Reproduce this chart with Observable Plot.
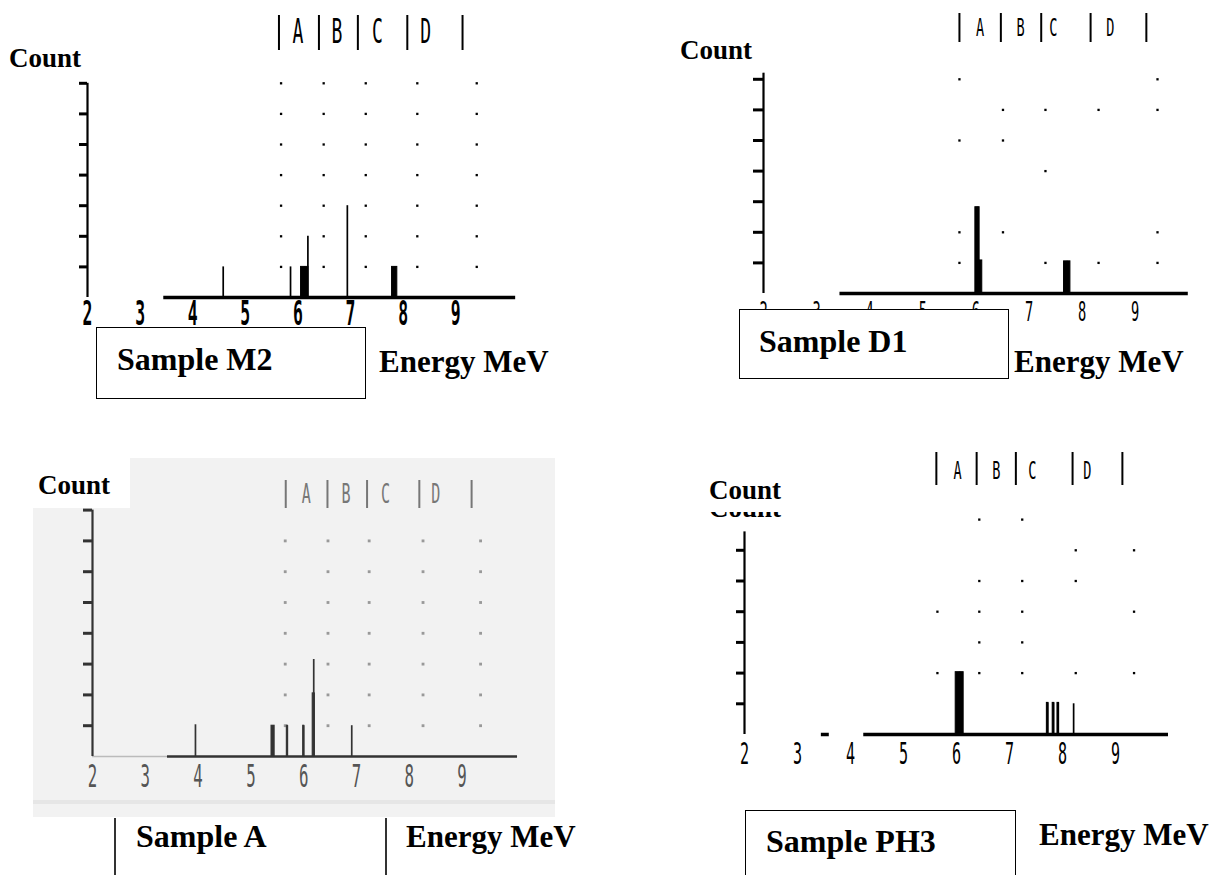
<!DOCTYPE html>
<html><head><meta charset="utf-8">
<script src="https://cdn.jsdelivr.net/npm/d3@7"></script>
<script src="https://cdn.jsdelivr.net/npm/@observablehq/plot@0.6"></script>
<style>
html,body{margin:0;padding:0;background:#fff;}
#page{position:relative;width:1211px;height:875px;overflow:hidden;background:#fff;}
#page svg{position:absolute;left:0;top:0;}
.lbl{position:absolute;font-family:"Liberation Serif","Times New Roman",serif;font-weight:bold;color:#000;white-space:nowrap;line-height:1;}
.box{position:absolute;border:1.5px solid #000;background:#fff;box-sizing:border-box;}
.vl{position:absolute;width:2px;background:#333;}
</style></head><body><div id="page"></div>
<script>
// ---------- data ----------
const energyTicks = [2, 3, 4, 5, 6, 7, 8, 9];          // MeV tick labels
const headerLetters = ["A", "B", "C", "D"];

// Sample M2
const m2PeakEnergy = [4.58, 5.86, 6.13, 6.19, 6.94, 7.84];
const m2PeakWidth  = [0.00, 0.00, 0.14, 0.00, 0.00, 0.10];
const m2PeakCount  = [1.00, 1.00, 1.00, 2.00, 3.00, 1.00];
const m2Baseline   = [[3.45, 10.14]];
const m2DotCols    = [5.68, 6.49, 7.29, 8.27, 9.40];
const m2Separators = [5.64, 6.40, 7.14, 8.08, 9.13];
const m2LetterPos  = [6.00, 6.74, 7.51, 8.43];
const m2CountTicks = [1, 2, 3, 4, 5, 6, 7];

// Sample D1
const d1PeakEnergy = [6.03, 6.08, 7.72];
const d1PeakWidth  = [0.08, 0.08, 0.12];
const d1PeakCount  = [2.82, 1.08, 1.05];
const d1Baseline   = [[3.44, 10.0]];
const d1DotCols    = [5.69, 6.51, 7.31, 8.31, 9.42];
const d1Dots       = [[0,7],[4,7],[1,6],[2,6],[3,6],[4,6],[0,5],[1,5],[2,4],[0,2],[1,2],[4,2],[0,1],[2,1],[3,1],[4,1]];
const d1Separators = [5.69, 6.47, 7.23, 8.16, 9.21];
const d1LetterPos  = [6.08, 6.84, 7.46, 8.53];
const d1CountTicks = [1, 2, 3, 4, 5, 6, 7];

// Sample A
const aPeakEnergy = [3.95, 5.42, 5.69, 6.00, 6.19, 6.19, 6.91];
const aPeakWidth  = [0.00, 0.06, 0.02, 0.02, 0.04, 0.00, 0.00];
const aPeakCount  = [1.03, 1.00, 1.00, 1.00, 2.05, 3.15, 1.00];
const aBaseline   = [[3.42, 10.05]];
const aFaintBase  = [[2.0, 3.42]];
const aDotCols    = [5.65, 6.46, 7.24, 8.26, 9.35];
const aSeparators = [5.66, 6.45, 7.20, 8.19, 9.18];
const aLetterPos  = [6.05, 6.80, 7.55, 8.50];
const aCountTicks = [1, 2, 3, 4, 5, 6, 7, 8];

// Sample PH3
const ph3PeakEnergy = [6.06, 7.72, 7.83, 7.92, 8.21];
const ph3PeakWidth  = [0.15, 0.03, 0.03, 0.03, 0.00];
const ph3PeakCount  = [2.03, 1.03, 1.03, 1.03, 1.00];
const ph3Baseline   = [[3.45, 3.60], [4.25, 10.0]];
const ph3DotCols    = [5.64, 6.43, 7.24, 8.25, 9.35];
const ph3Dots       = [[1,7],[2,7],[3,6],[4,6],[1,5],[2,5],[3,5],[0,4],[1,4],[2,4],[4,4],[1,3],[2,3],[0,2],[1,2],[2,2],[3,2],[4,2]];
const ph3Separators = [5.62, 6.38, 7.12, 8.19, 9.13];
const ph3LetterPos  = [6.02, 6.75, 7.43, 8.47];
const ph3CountTicks = [1, 2, 3, 4, 5, 6];

const gridRows = [1, 2, 3, 4, 5, 6, 7];
const fullGrid = d3.cross([0, 1, 2, 3, 4], gridRows);

// ---------- layout (page pixels) ----------
const W = 1211, H = 875;
const page = document.getElementById("page");

function squeeze(group, s) {
  if (!group) return;
  d3.select(group).selectAll("text").each(function () {
    const t = this.getAttribute("transform");
    if (t) this.setAttribute("transform", t + ` scale(${s},1)`);
    else {
      const x = parseFloat(this.getAttribute("x")) || 0, y = parseFloat(this.getAttribute("y")) || 0;
      this.removeAttribute("x"); this.removeAttribute("y");
      this.setAttribute("transform", `translate(${x},${y}) scale(${s},1)`);
    }
  });
}

function panel(L, D) {
  const xmax = 10.4;
  const ymax = (L.oy - L.frameTop) / L.ky;
  const yOf = px => (L.oy - px) / L.ky;
  const peaks = D.energy.map((e, i) => ({e, w: D.width[i], c: D.count[i]}));
  const wide = peaks.filter(p => p.w > 0);
  const marks = [];
  if (D.faint) marks.push(Plot.ruleY(D.faint, {y: 0, x1: d => d[0], x2: d => d[1], stroke: "#bbb", strokeWidth: 1.5}));
  marks.push(
    Plot.dot(D.dots, {x: d => D.cols[d[0]], y: d => d[1], symbol: "square", r: L.dotR, fill: L.dotColor, stroke: null}),
    Plot.ruleY(D.baseline, {y: 0, x1: d => d[0], x2: d => d[1], stroke: L.ink, strokeWidth: L.baseW}),
    Plot.ruleX([2], {y1: 0, y2: L.yTop, stroke: L.ink, strokeWidth: 2.2}),
    Plot.axisY(D.ticks, {tickSize: L.tickLen, strokeWidth: 3, stroke: L.ink, tickFormat: () => "", label: null}),
    Plot.rect(wide, {x1: d => d.e - d.w / 2, x2: d => d.e + d.w / 2, y1: 0, y2: d => d.c,
      fill: L.ink, stroke: L.ink, strokeWidth: 1, inset: 0}),
    Plot.ruleX(peaks, {x: d => d.e, y1: 0, y2: d => d.c, stroke: L.ink, strokeWidth: 1.7}),
    Plot.ruleX(D.separators, {y1: yOf(L.hBottom), y2: yOf(L.hTop), stroke: L.headInk, strokeWidth: 2}),
    Plot.text(energyTicks, {x: d => d, y: 0, dy: L.labPad + L.labH / 2, text: d => String(d),
      fontSize: L.labH / 0.73, fontFamily: "DejaVu Sans Mono", fontWeight: L.labWeight,
      fill: L.labColor, lineAnchor: "middle"}),
    Plot.text(headerLetters, {x: (d, i) => D.letters[i], y: yOf(L.hText), text: d => d,
      fontSize: L.hLetterH / 0.73, fontFamily: "DejaVu Sans Mono", fill: L.headInk, lineAnchor: "middle"})
  );
  const svg = Plot.plot({
    width: W, height: H,
    marginLeft: L.ox,
    marginRight: W - (L.ox + L.kx * (xmax - 2)),
    marginTop: L.frameTop,
    marginBottom: H - L.oy,
    x: {domain: [2, xmax], axis: null},
    y: {domain: [0, ymax], axis: null},
    style: {background: "transparent", overflow: "visible"},
    marks
  });
  const groups = svg.querySelectorAll('g[aria-label="text"]');
  squeeze(groups[0], 0.5);
  squeeze(groups[1], 0.55);
  page.appendChild(svg);
  return svg;
}

function label(text, left, top, size, extra) {
  const d = document.createElement("div");
  d.className = "lbl";
  d.textContent = text;
  d.style.left = left + "px"; d.style.top = top + "px"; d.style.fontSize = size + "px";
  if (extra) Object.assign(d.style, extra);
  page.appendChild(d);
  return d;
}
function box(l, t, w, h, cls, extra) {
  const d = document.createElement("div");
  d.className = cls;
  Object.assign(d.style, {left: l + "px", top: t + "px", width: w + "px", height: h + "px"}, extra || {});
  page.appendChild(d);
  return d;
}

// grey scanned background of Sample A
box(33, 458, 522, 359, "bg", {position: "absolute", background: "#f2f2f2"});
box(33, 800, 522, 4, "bg", {position: "absolute", background: "#e6e6e6"});
box(32, 456, 98, 52, "bg", {position: "absolute", background: "#fff"});

const black = {ink: "#000", headInk: "#000", dotColor: "#000", labColor: "#000", labWeight: "bold", dotR: 1.3, baseW: 3.5};

panel({...black, ox: 87, kx: 52.6, oy: 297, ky: 30.6, yTop: 7, frameTop: 2, tickLen: 8,
  hTop: 15, hBottom: 50, hText: 32, hLetterH: 24, labPad: 5, labH: 24},
  {energy: m2PeakEnergy, width: m2PeakWidth, count: m2PeakCount, baseline: m2Baseline,
   cols: m2DotCols, dots: fullGrid, separators: m2Separators, letters: m2LetterPos, ticks: m2CountTicks});

panel({...black, ox: 763, kx: 53.1, oy: 293, ky: 30.6, yTop: 7.2, frameTop: 2, tickLen: 10,
  hTop: 13, hBottom: 42, hText: 28, hLetterH: 18, labPad: 9, labH: 20, labWeight: "normal"},
  {energy: d1PeakEnergy, width: d1PeakWidth, count: d1PeakCount, baseline: d1Baseline,
   cols: d1DotCols, dots: d1Dots, separators: d1Separators, letters: d1LetterPos, ticks: d1CountTicks});

panel({ink: "#333", headInk: "#777", dotColor: "#999", labColor: "#555", labWeight: "normal", dotR: 1.6, baseW: 2.5,
  ox: 92, kx: 52.8, oy: 756, ky: 30.8, yTop: 8, frameTop: 440, tickLen: 9,
  hTop: 480, hBottom: 508, hText: 494, hLetterH: 20, labPad: 9, labH: 23},
  {energy: aPeakEnergy, width: aPeakWidth, count: aPeakCount, baseline: aBaseline, faint: aFaintBase,
   cols: aDotCols, dots: fullGrid, separators: aSeparators, letters: aLetterPos, ticks: aCountTicks});

panel({...black, ox: 744, kx: 53.0, oy: 734, ky: 30.7, yTop: 6.6, frameTop: 440, tickLen: 8,
  hTop: 452, hBottom: 485, hText: 471, hLetterH: 18, labPad: 9, labH: 22, labWeight: "normal"},
  {energy: ph3PeakEnergy, width: ph3PeakWidth, count: ph3PeakCount, baseline: ph3Baseline,
   cols: ph3DotCols, dots: ph3Dots, separators: ph3Separators, letters: ph3LetterPos, ticks: ph3CountTicks});

// ---------- text labels and boxes ----------
// Sample M2
label("Count", 9, 45, 27);
box(96, 327, 270, 72, "box");
label("Sample M2", 117, 343, 32);
label("Energy MeV", 379, 346, 31);
// Sample D1
label("Count", 680, 37, 27);
box(739, 309, 270, 70, "box");
label("Sample D1", 759, 325, 32);
label("Energy MeV", 1014, 346, 31);
// Sample A
label("Count", 38, 472, 27);
box(114, 818, 2, 57, "vl");
box(385, 818, 2, 57, "vl");
label("Sample A", 136, 820, 32);
label("Energy MeV", 406, 821, 31);
// Sample PH3
label("Count", 709, 477, 27);
const ghost = box(700, 512, 90, 6, "ghost", {position: "absolute", overflow: "hidden"});
const gl = document.createElement("div");
gl.className = "lbl"; gl.textContent = "Count";
Object.assign(gl.style, {left: "9px", top: "-17px", fontSize: "27px"});
ghost.appendChild(gl);
box(745, 810, 271, 80, "box");
label("Sample PH3", 766, 825, 32);
label("Energy MeV", 1039, 819, 31);
</script>
</body></html>
